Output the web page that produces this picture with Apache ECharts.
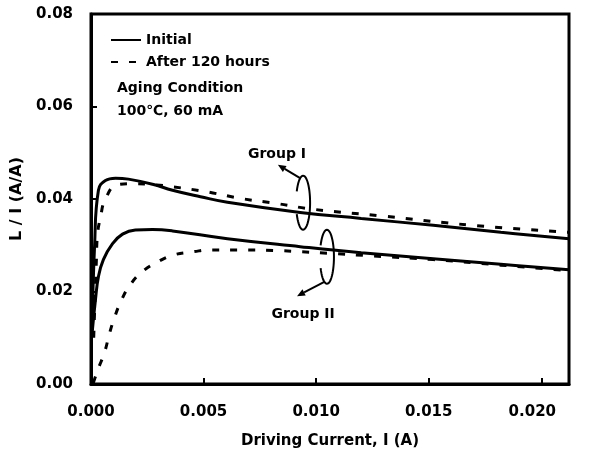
<!DOCTYPE html>
<html>
<head>
<meta charset="utf-8">
<script src="https://cdn.jsdelivr.net/npm/echarts@6/dist/echarts.min.js"></script>
<style>
  html, body { margin: 0; padding: 0; background: #fff; }
  #chart { width: 595px; height: 454px; }
</style>
</head>
<body>
<div id="chart"></div>
<script>
// Driving current (A) and L/I (A/A) for each group, before and after aging
const groupIInitialCurrent = [0.00005, 0.00016, 0.00033, 0.00064, 0.00109, 0.00166, 0.00273, 0.00362, 0.00486, 0.00606, 0.00929, 0.0120, 0.0152, 0.0182, 0.02123];
const groupIInitialRatio   = [0.012, 0.030, 0.0419, 0.0440, 0.0445, 0.0443, 0.0432, 0.0419, 0.0405, 0.0393, 0.0371, 0.0358, 0.0343, 0.0328, 0.0314];

const groupIAgedCurrent = [0.00012, 0.00024, 0.00029, 0.00042, 0.00064, 0.00118, 0.0020, 0.00273, 0.00353, 0.00508, 0.00668, 0.00828, 0.00983, 0.01298, 0.01697, 0.02123];
const groupIAgedRatio   = [0.010, 0.027, 0.0324, 0.036, 0.040, 0.0431, 0.0433, 0.0431, 0.0427, 0.0416, 0.0401, 0.0390, 0.0378, 0.0363, 0.0343, 0.0328];

const groupIIInitialCurrent = [0.00005, 0.0002, 0.00033, 0.00055, 0.00095, 0.0014, 0.00197, 0.00273, 0.00362, 0.00606, 0.00929, 0.0120, 0.0152, 0.0182, 0.02123];
const groupIIInitialRatio   = [0.011, 0.0183, 0.0232, 0.0269, 0.0303, 0.0324, 0.0333, 0.0334, 0.0331, 0.0314, 0.0297, 0.0284, 0.0271, 0.0259, 0.0247];

const groupIIAgedCurrent = [0.0001, 0.00033, 0.0006, 0.00082, 0.00104, 0.00135, 0.00175, 0.00228, 0.003, 0.00366, 0.00455, 0.0053, 0.00694, 0.0085, 0.0093, 0.01076, 0.01249, 0.0152, 0.0182, 0.02123];
const groupIIAgedRatio   = [0.0002, 0.0034, 0.0068, 0.0109, 0.0143, 0.0181, 0.0215, 0.0243, 0.0265, 0.0279, 0.0286, 0.0290, 0.0290, 0.0288, 0.0286, 0.0282, 0.0277, 0.0269, 0.0257, 0.0245];

const legendNames = ['Initial', 'After 120 hours'];
const conditionLines = ['Aging Condition', '100\u2103, 60 mA'];
const groupLabels = ['Group I', 'Group II'];

// Axis ranges and tick steps
const xMax = 0.02123;
const xStep = 0.005;
const yMax = 0.08;
const yStep = 0.02;

// Annotation anchors in data space: loop centre, arrow head, label centre
const groupIAnchor  = { loop: [0.00942, 0.0392], head: [0.0083, 0.0474], label: [0.00826, 0.0497] };
const groupIIAnchor = { loop: [0.01048, 0.0275], head: [0.00915, 0.0190], label: [0.00942, 0.0151] };

const FONT = 'DejaVu Sans';
const pairs = (xs, ys) => xs.map((x, i) => [x, ys[i]]);

function lineSeries(name, xs, ys, dashed) {
  return {
    type: 'line',
    name: name,
    data: pairs(xs, ys),
    showSymbol: false,
    symbol: 'none',
    smooth: 0.45,
    z: dashed ? 2 : 3,
    lineStyle: { color: '#000', width: 3, type: dashed ? [7, 11] : 'solid' },
    itemStyle: { color: '#000' },
    animation: false
  };
}

const chart = echarts.init(document.getElementById('chart'), null, { renderer: 'canvas' });

chart.setOption({
  animation: false,
  backgroundColor: '#fff',
  grid: { left: 91, top: 14, width: 478, height: 375, show: true, borderColor: '#000', borderWidth: 3 },
  legend: {
    data: legendNames,
    orient: 'vertical',
    left: 105,
    top: 27,
    itemWidth: 30,
    itemHeight: 14,
    itemGap: 6,
    itemStyle: { opacity: 0 },
    textStyle: { fontFamily: FONT, fontWeight: 'bold', fontSize: 14, color: '#000', lineHeight: 16 }
  },
  xAxis: {
    type: 'value',
    min: 0,
    max: xMax,
    interval: xStep,
    name: 'Driving Current, I (A)',
    nameLocation: 'middle',
    nameGap: 50,
    nameTextStyle: { fontFamily: FONT, fontWeight: 'bold', fontSize: 15, color: '#000' },
    axisLine: { lineStyle: { color: '#000', width: 3 } },
    axisTick: { inside: true, length: 6, lineStyle: { color: '#000', width: 2 } },
    splitLine: { show: false },
    axisLabel: {
      showMaxLabel: false,
      margin: 21,
      fontFamily: FONT, fontWeight: 'bold', fontSize: 15, color: '#000',
      formatter: v => (Math.abs(v - 0.02) < 1e-9 ? '{last|' + v.toFixed(3) + '}' : v.toFixed(3)),
      rich: { last: { fontFamily: FONT, fontWeight: 'bold', fontSize: 15, color: '#000', padding: [0, 18, 0, 0] } }
    }
  },
  yAxis: {
    type: 'value',
    min: 0,
    max: yMax,
    interval: yStep,
    name: 'L / I (A/A)',
    nameLocation: 'middle',
    nameGap: 66,
    nameTextStyle: { fontFamily: FONT, fontWeight: 'bold', fontSize: 16, color: '#000' },
    axisLine: { show: true, lineStyle: { color: '#000', width: 3 } },
    axisTick: { show: true, inside: true, length: 6, lineStyle: { color: '#000', width: 2 } },
    splitLine: { show: false },
    axisLabel: {
      margin: 18,
      fontFamily: FONT, fontWeight: 'bold', fontSize: 15, color: '#000',
      formatter: v => v.toFixed(2)
    }
  },
  series: [
    lineSeries(legendNames[0], groupIInitialCurrent, groupIInitialRatio, false),
    lineSeries(legendNames[1], groupIAgedCurrent, groupIAgedRatio, true),
    lineSeries(legendNames[0], groupIIInitialCurrent, groupIIInitialRatio, false),
    lineSeries(legendNames[1], groupIIAgedCurrent, groupIIAgedRatio, true)
  ]
});

// Pixel helpers for the bracket-and-arrow annotations
const toPx = pt => chart.convertToPixel({ gridIndex: 0 }, pt);

function loopPoints(cx, cy, rx, ry, fromDeg, toDeg) {
  const pts = [];
  const n = 48;
  for (let i = 0; i <= n; i++) {
    const a = (fromDeg + (toDeg - fromDeg) * i / n) * Math.PI / 180;
    pts.push([cx + rx * Math.cos(a), cy + ry * Math.sin(a)]);
  }
  return pts;
}

function annotation(anchor, text, tailDeg) {
  const [cx, cy] = toPx(anchor.loop);
  const head = toPx(anchor.head);
  const label = toPx(anchor.label);
  const rx = 7, ry = 27;
  const ta = tailDeg * Math.PI / 180;
  const tail = [cx + rx * Math.cos(ta), cy + ry * Math.sin(ta)];
  const dx = head[0] - tail[0], dy = head[1] - tail[1];
  const len = Math.hypot(dx, dy);
  const ux = dx / len, uy = dy / len;
  const nx = -uy, ny = ux;
  const base = [head[0] - ux * 8, head[1] - uy * 8];
  return [
    {
      type: 'polyline',
      shape: { points: loopPoints(cx, cy, rx, ry, -155, 155) },
      style: { stroke: '#000', lineWidth: 2, fill: null },
      z: 10
    },
    {
      type: 'line',
      shape: { x1: tail[0], y1: tail[1], x2: base[0], y2: base[1] },
      style: { stroke: '#000', lineWidth: 2 },
      z: 10
    },
    {
      type: 'polygon',
      shape: { points: [head, [base[0] + nx * 3.5, base[1] + ny * 3.5], [base[0] - nx * 3.5, base[1] - ny * 3.5]] },
      style: { fill: '#000' },
      z: 10
    },
    {
      type: 'text',
      x: label[0],
      y: label[1],
      style: { text: text, fontFamily: FONT, fontWeight: 'bold', fontSize: 14, fill: '#000', align: 'center', verticalAlign: 'middle' },
      z: 10
    }
  ];
}

chart.setOption({
  graphic: [
    {
      type: 'text',
      left: 117,
      top: 81,
      style: { text: conditionLines[0], fontFamily: FONT, fontWeight: 'bold', fontSize: 14, fill: '#000' }
    },
    {
      type: 'text',
      left: 117,
      top: 104,
      style: { text: conditionLines[1], fontFamily: FONT, fontWeight: 'bold', fontSize: 14, fill: '#000' }
    },
    ...annotation(groupIAnchor, groupLabels[0], -115),
    ...annotation(groupIIAnchor, groupLabels[1], 112)
  ]
});
</script>
</body>
</html>
